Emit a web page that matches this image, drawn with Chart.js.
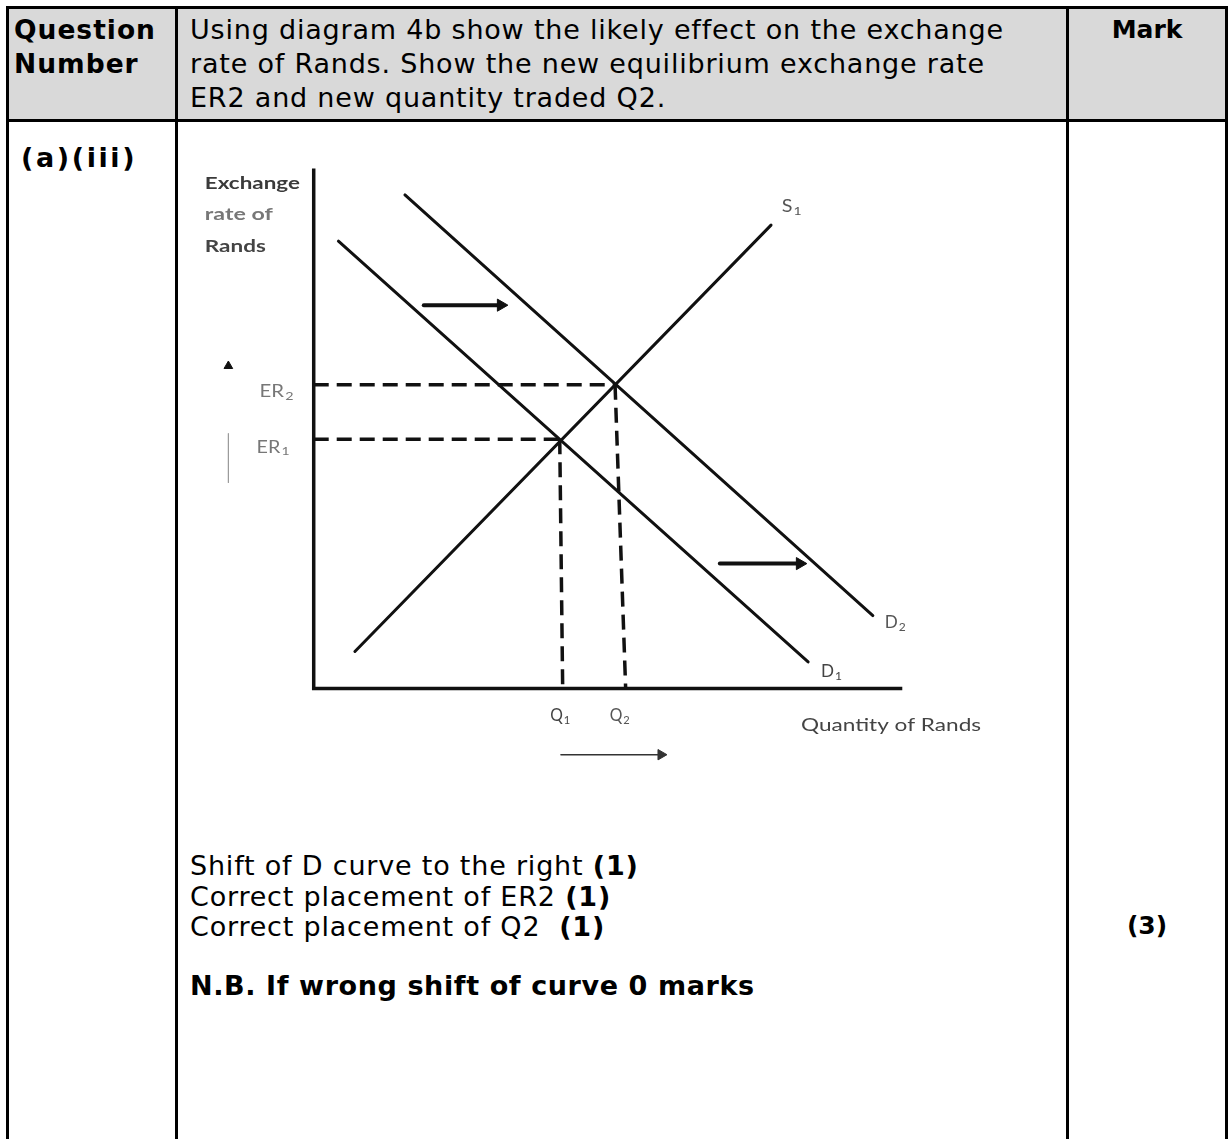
<!DOCTYPE html>
<html><head><meta charset="utf-8">
<script src="https://cdn.jsdelivr.net/npm/chart.js@4.4.1/dist/chart.umd.min.js"></script>
<style>
html,body{margin:0;padding:0;background:#fff;}
body{width:1229px;height:1139px;position:relative;overflow:hidden;font-family:"DejaVu Sans",sans-serif;color:#000;}
.abs{position:absolute;}
.hline{position:absolute;background:#000;height:3px;}
.vline{position:absolute;background:#000;width:3px;}
.t{position:absolute;font-size:27px;line-height:34px;white-space:nowrap;letter-spacing:0.8px;}
b{font-weight:bold;}
</style></head><body>
<div class="abs" style="left:8px;top:8px;width:1218px;height:112px;background:#d9d9d9;"></div>
<div class="hline" style="left:6px;top:6px;width:1221px;"></div>
<div class="hline" style="left:6px;top:119px;width:1221px;"></div>
<div class="vline" style="left:6px;top:6px;height:1140px;"></div>
<div class="vline" style="left:175px;top:6px;height:1140px;"></div>
<div class="vline" style="left:1066px;top:6px;height:1140px;"></div>
<div class="vline" style="left:1225px;top:6px;height:1140px;"></div>

<div class="t" style="left:14px;top:13px;font-weight:bold;font-size:26.5px;letter-spacing:1px;">Question<br>Number</div>
<div class="t" style="left:190px;top:13px;">Using diagram 4b show the likely effect on the exchange<br>rate of Rands. Show the new equilibrium exchange rate<br>ER2 and new quantity traded Q2.</div>
<div class="t" style="left:1069px;width:156px;top:13px;text-align:center;font-weight:bold;font-size:25px;letter-spacing:0;">Mark</div>

<div class="t" style="left:21px;top:141px;font-weight:bold;font-size:27px;letter-spacing:2.6px;">(a)(iii)</div>

<div class="t" style="left:190px;top:851px;line-height:30.5px;">Shift of D curve to the right <b>(1)</b><br>Correct placement of ER2 <b>(1)</b><br>Correct placement of Q2&nbsp; <b>(1)</b></div>
<div class="t" style="left:190px;top:971px;line-height:30px;font-weight:bold;letter-spacing:0.6px;">N.B. If wrong shift of curve 0 marks</div>
<div class="t" style="left:1069px;width:156px;top:909px;text-align:center;font-weight:bold;font-size:25px;letter-spacing:0;">(3)</div>

<canvas id="c" width="840" height="640" style="position:absolute;left:188px;top:150px;"></canvas>
<script>
// ---- data (quantity on x, exchange rate on y) ----
const supplyQ  = [7.0, 77.7];
const supplyER = [7.1, 89.1];
const demand1Q  = [4.2, 84.0];
const demand1ER = [86.0, 5.1];
const demand2Q  = [15.5, 95.0];
const demand2ER = [94.9, 14.0];
const eqQ     = [41.8, 51.2];   // Q1, Q2 at equilibrium
const eqER    = [47.9, 58.4];   // ER1, ER2
const eqQBase = [42.3, 53.0];   // where the hand-drawn dashed drops meet the axis
const qTickLabels  = ['Q', 'Q'];
const qTickSubs    = ['1', '2'];
const erTickLabels = ['ER', 'ER'];
const erTickSubs   = ['1', '2'];
const axisMaxQ = 100, axisMaxER = 100;
const shiftArrowQ  = [[18.7, 31.8], [69.0, 82.6]];
const shiftArrowER = [73.7, 24.0];
const qArrowQ = [42.0, 59.0], qArrowER = -12.75;
const erArrowQ = -14.5, erArrowER = [62.0, 49.0, 39.6];

const pts = (xs, ys) => xs.map((x, i) => ({x, y: ys[i]}));
const ink = '#111';
const solid = (data, w) => ({data, borderColor: ink, borderWidth: w, pointRadius: 0, showLine: true, fill: false, tension: 0});
const dashed = data => Object.assign(solid(data, 3.5), {borderDash: [15, 8], borderCapStyle: 'butt'});
const arrow = (data, w, col, r) => ({data, borderColor: col, backgroundColor: col, borderWidth: w, showLine: true,
  pointRadius: data.map((p, i) => i === data.length - 1 ? r : 0), pointStyle: 'triangle', rotation: 90, pointBorderWidth: 1, pointBorderColor: col});

const datasets = [
  Object.assign(solid(pts([0, 0, axisMaxQ], [axisMaxER, 0, 0]), 3.5), {borderJoinStyle: 'miter', borderCapStyle: 'butt'}),
  solid(pts(supplyQ, supplyER), 3),
  solid(pts(demand1Q, demand1ER), 3),
  solid(pts(demand2Q, demand2ER), 3),
  dashed(pts([0, eqQ[0]], [eqER[0], eqER[0]])),
  dashed(pts([0, eqQ[1]], [eqER[1], eqER[1]])),
  dashed(pts([eqQ[0], eqQBase[0]], [eqER[0], 0])),
  dashed(pts([eqQ[1], eqQBase[1]], [eqER[1], 0])),
  arrow(pts(shiftArrowQ[0], [shiftArrowER[0], shiftArrowER[0]]), 4, ink, 7),
  arrow(pts(shiftArrowQ[1], [shiftArrowER[1], shiftArrowER[1]]), 4, ink, 7),
  arrow(pts(qArrowQ, [qArrowER, qArrowER]), 1.5, '#333', 6),
  solid(pts([erArrowQ, erArrowQ], [erArrowER[1], erArrowER[2]]), 1.2),
  {data: [{x: erArrowQ, y: erArrowER[0]}], pointStyle: 'triangle', pointRadius: 5, backgroundColor: '#111', borderColor: '#111', showLine: false}
];
datasets[11].borderColor = '#999';

const font = 'Lato, "Open Sans", sans-serif';
// annotation placement (data coords) and drawn widths in px
const labels = [
  {t: 'Exchange', x: -18.5, y: 97.0, c: '#3a3a3a', w: 'bold', width: 95},
  {t: 'rate of',  x: -18.5, y: 91.2, c: '#777', w: 'bold', width: 68},
  {t: 'Rands',    x: -18.5, y: 84.9, c: '#444', w: 'bold', width: 61},
  {t: erTickLabels[1], s: erTickSubs[1], x: -9.2, y: 57.0, c: '#777', width: 34},
  {t: erTickLabels[0], s: erTickSubs[0], x: -9.7, y: 46.4, c: '#777', width: 33},
  {t: qTickLabels[0], s: qTickSubs[0], x: eqQ[0] - 1.6, y: -5.3, c: '#444', width: 20},
  {t: qTickLabels[1], s: qTickSubs[1], x: eqQ[1] - 0.9, y: -5.3, c: '#555', width: 20},
  {t: 'Quantity of Rands', x: 82.8, y: -7.1, c: '#444', width: 180},
  {t: 'S', s: '1', x: 79.5, y: 92.6, c: '#555', width: 20},
  {t: 'D', s: '1', x: 86.2, y: 3.2, c: '#444', width: 21},
  {t: 'D', s: '2', x: 97.0, y: 12.6, c: '#555', width: 21}
];
const textPlugin = {
  id: 'texts',
  afterDatasetsDraw(chart) {
    const {ctx, scales: {x, y}} = chart;
    ctx.save();
    ctx.textBaseline = 'middle';
    ctx.textAlign = 'left';
    labels.forEach(l => {
      const px = x.getPixelForValue(l.x), py = y.getPixelForValue(l.y);
      const mainFont = (l.w || 'normal') + ' 17px ' + font;
      const subFont = '12px ' + font;
      ctx.font = mainFont;
      const wMain = ctx.measureText(l.t).width;
      let wSub = 0;
      if (l.s) { ctx.font = subFont; wSub = ctx.measureText(l.s).width + 1; }
      const k = l.width / (wMain + wSub);
      ctx.save();
      ctx.translate(px, py);
      ctx.scale(k, 1);
      ctx.fillStyle = l.c;
      ctx.font = mainFont;
      ctx.fillText(l.t, 0, 0);
      if (l.s) { ctx.font = subFont; ctx.fillText(l.s, wMain + 1, 4); }
      ctx.restore();
    });
    ctx.restore();
  }
};

new Chart(document.getElementById('c'), {
  type: 'scatter',
  data: {datasets},
  options: {
    responsive: false, animation: false, devicePixelRatio: 1,
    layout: {padding: 0},
    plugins: {legend: {display: false}, tooltip: {enabled: false}},
    scales: {
      x: {type: 'linear', min: -20, max: 120, display: false},
      y: {type: 'linear', min: -18, max: 102, display: false}
    },
    elements: {line: {borderCapStyle: 'round'}}
  },
  plugins: [textPlugin]
});
</script>
</body></html>
